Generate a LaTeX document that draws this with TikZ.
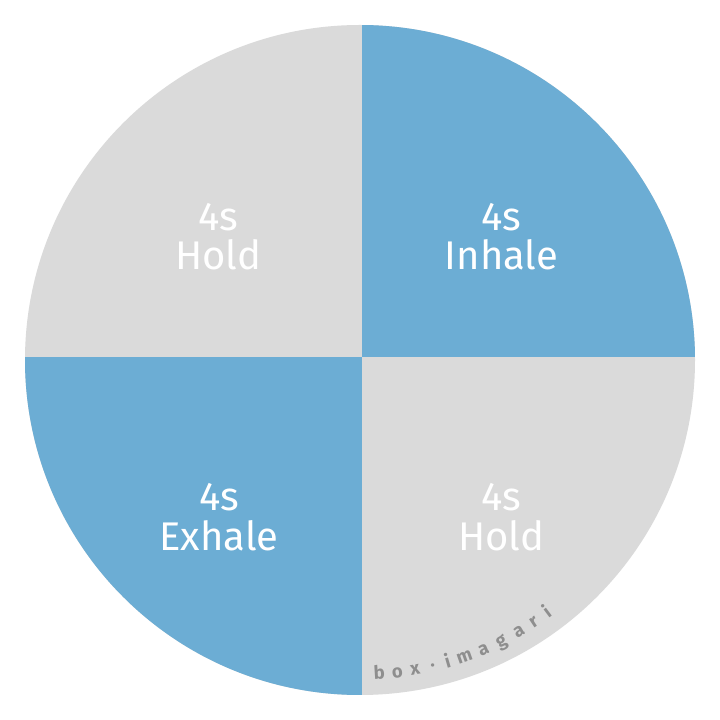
\documentclass[tikz,border=0pt]{standalone}
\usepackage{fontspec}
\setmainfont{Fira Sans}
\usetikzlibrary{calc}
\definecolor{qblue}{HTML}{6CADD4}
\definecolor{qgrey}{HTML}{DADADA}
\definecolor{wmgrey}{HTML}{8E8E8E}
\begin{document}
\begin{tikzpicture}[x=1pt,y=1pt,
  lbl/.style={text=white,font=\fontsize{40}{40}\selectfont,anchor=base,inner sep=0pt},
  wm/.style={text=wmgrey,font=\fontsize{18.5}{18.5}\selectfont\bfseries,anchor=base,inner sep=0pt}]
\useasboundingbox (0,0) rectangle (720,720);
\fill[white] (0,0) rectangle (720,720);
\coordinate (c) at (360,360);
\coordinate (s) at (362,362.5);
\begin{scope}
  \clip (c) circle (335);
  \fill[qgrey] (0,0) rectangle (720,720);
  \fill[qblue] (s) rectangle (720,720);
  \fill[qblue] (s) rectangle (0,0);
\end{scope}
\node[lbl] (tl1) at (218,489) {4s};
\node[lbl] (tl2) at (218,450) {Hold};
\node[lbl] (tr1) at (501.5,489) {4s};
\node[lbl] (tr2) at (501.5,450) {Inhale};
\node[lbl] (bl1) at (219,209) {4s};
\node[lbl] (bl2) at (219,169) {Exhale};
\node[lbl] (br1) at (501,209) {4s};
\node[lbl] (br2) at (501,169) {Hold};
\foreach \ch/\ang [count=\i from 0] in {b/-86.5,o/-83.2,x/-79.9,·/-76.6,i/-73.8,m/-70.6,a/-66.9,g/-63.3,a/-59.7,r/-56.5,i/-53.4}{
  \node[wm,rotate=\ang+90] (wm\i) at ($(c)+(\ang:320)$) {\ch};
}
\end{tikzpicture}
\end{document}
